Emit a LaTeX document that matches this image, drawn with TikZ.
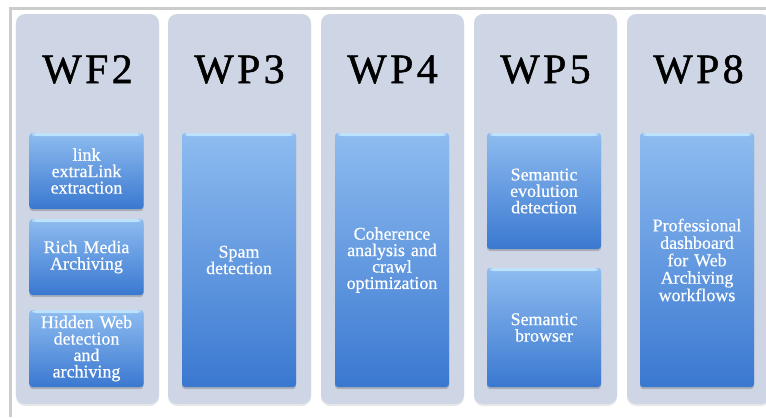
\documentclass[tikz,border=0pt]{standalone}
\usepackage{fontspec}
\setmainfont{Liberation Serif}
\newfontfamily\wptitlefont[LetterSpace=8,FakeBold=1.2]{Liberation Serif}
\newfontfamily\taskfont[FakeBold=0.6]{Liberation Serif}
\usetikzlibrary{shadows}
\definecolor{framegray}{RGB}{204,204,204}
\definecolor{colgray}{RGB}{206,214,230}
\definecolor{tasktop}{RGB}{142,188,240}
\definecolor{taskbot}{RGB}{58,120,208}
\definecolor{taskhi}{RGB}{190,226,252}
\begin{document}
\begin{tikzpicture}[x=1bp,y=-1bp,
  wpcol/.style={fill=colgray, rounded corners=9bp, minimum width=143bp,
    minimum height=390bp, inner sep=0pt,
    drop shadow={opacity=0.18, shadow xshift=0bp, shadow yshift=-2bp}},
  wptitle/.style={anchor=base, font=\wptitlefont\fontsize{42}{42}\selectfont},
  task/.style={rounded corners=3bp, top color=tasktop, bottom color=taskbot,
    minimum width=114bp, text width=112bp, align=center, inner sep=0pt,
    text=white, font=\taskfont\fontsize{18}{16.5}\selectfont,
    drop shadow={opacity=0.45, shadow xshift=0bp, shadow yshift=-2bp},
    path picture={\fill[taskhi] ([xshift=3bp]path picture bounding box.north west)
      rectangle ([xshift=-3bp,yshift=-3bp]path picture bounding box.north east);}},
]
\useasboundingbox (0,0) rectangle (766,417);
\fill[white] (0,0) rectangle (766,417);
% frame
\draw[framegray, line width=3bp] (766,8.5) -- (10.5,8.5) -- (10.5,417);
% work package columns
\foreach \x/\t/\n in {87.5/WF2/wpa, 239.5/WP3/wpb, 392.5/WP4/wpc,
                      545.5/WP5/wpd, 698.5/WP8/wpe}{
  \node[wpcol] (\n) at (\x,209) {};
  \node[wptitle] (\n title) at (\x,83) {\t};
}
% tasks
\node[task, minimum height=76bp] (linkx) at (86.5,171) {link\\extraLink\\extraction};
\node[task, minimum height=76bp] (media) at (86.5,257) {Rich Media\\Archiving};
\node[task, minimum height=77bp] (hidden) at (86.5,348.5) {Hidden Web\\detection\\and\\archiving};
\node[task, minimum height=254bp] (spam) at (239,260) {Spam\\detection};
\node[task, minimum height=254bp] (coher) at (392,260) {Coherence\\analysis and\\crawl\\optimization};
\node[task, minimum height=116bp] (evol) at (544,191) {Semantic\\evolution\\detection};
\node[task, minimum height=119bp] (browse) at (544,327.5) {Semantic\\browser};
\node[task, minimum height=254bp, font=\taskfont\fontsize{18}{17.5}\selectfont] (dash) at (697,260)
  {Professional\\dashboard\\for Web\\Archiving\\workflows};
\end{tikzpicture}
\end{document}
